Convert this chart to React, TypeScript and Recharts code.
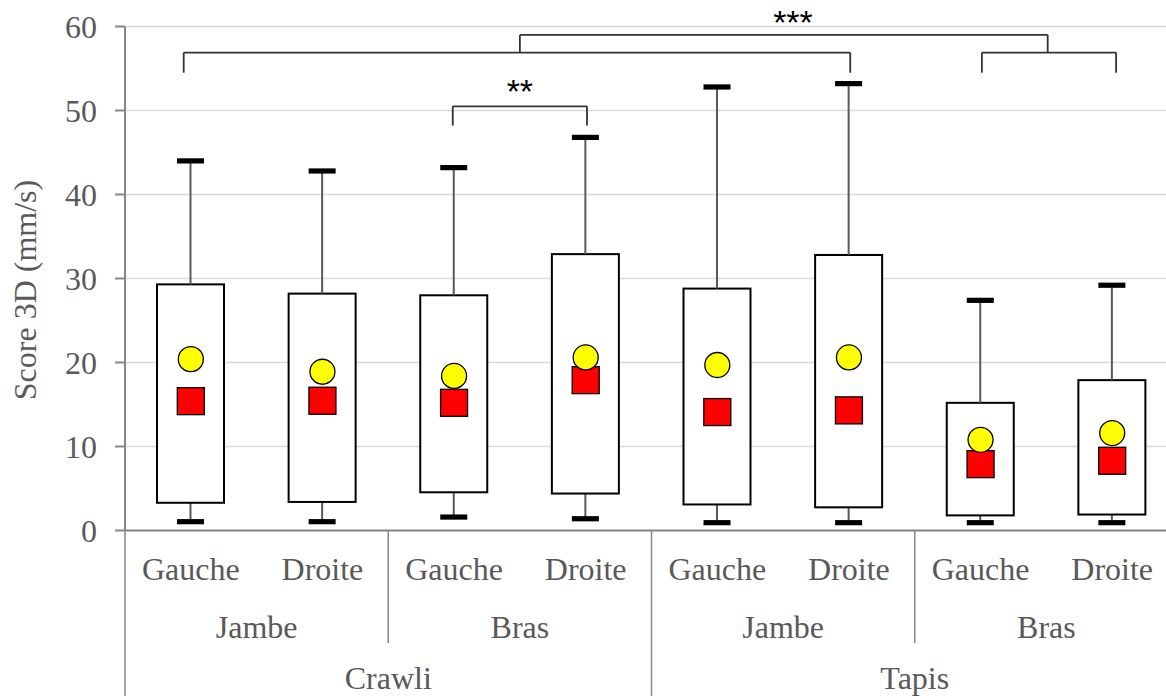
import React from 'react';
import {
  ComposedChart,
  Bar,
  Line,
  XAxis,
  YAxis,
  CartesianGrid,
  ReferenceLine,
  ReferenceDot,
  Label,
} from 'recharts';

// ---- data ----
const keys = ['C-J-G', 'C-J-D', 'C-B-G', 'C-B-D', 'T-J-G', 'T-J-D', 'T-B-G', 'T-B-D'];
const cotes = ['Gauche', 'Droite', 'Gauche', 'Droite', 'Gauche', 'Droite', 'Gauche', 'Droite'];
const membres = ['Jambe', 'Jambe', 'Bras', 'Bras', 'Jambe', 'Jambe', 'Bras', 'Bras'];
const conditions = ['Crawli', 'Crawli', 'Crawli', 'Crawli', 'Tapis', 'Tapis', 'Tapis', 'Tapis'];
const minimums = [1.05, 1.05, 1.6, 1.4, 0.93, 0.93, 0.93, 0.93];
const q1s = [3.3, 3.4, 4.55, 4.4, 3.1, 2.76, 1.8, 1.9];
const q3s = [29.3, 28.2, 28.0, 32.9, 28.8, 32.8, 15.2, 17.9];
const maximums = [44.0, 42.8, 43.2, 46.8, 52.8, 53.2, 27.4, 29.2];
const moyennes = [20.4, 18.9, 18.4, 20.6, 19.7, 20.6, 10.8, 11.6];
const medianes = [15.4, 15.45, 15.2, 17.9, 14.1, 14.3, 7.9, 8.3];
const yTicks = [0, 10, 20, 30, 40, 50, 60];

// significance brackets (x in category units 0..8, y in mm/s)
const brackets = [
  { x1: 0.446, x2: 5.51, top: 56.9, leg: 54.5 },
  { x1: 2.49, x2: 3.51, top: 50.5, leg: 48.2 },
  { x1: 6.51, x2: 7.53, top: 56.9, leg: 54.5 },
  { x1: 3.0, x2: 7.01, top: 59.0, leg: 56.9 },
];
const stars = [
  { x: 3.0, y: 50.9, text: '**' },
  { x: 5.075, y: 59.15, text: '***' },
];

const data = keys.map((k, i) => ({
  key: k,
  rang: i + 0.5,
  base: minimums[i],
  lowW: q1s[i] - minimums[i],
  box: q3s[i] - q1s[i],
  highW: maximums[i] - q3s[i],
  moyenne: moyennes[i],
  mediane: medianes[i],
}));

// ---- layout / style ----
const W = 1190;
const H = 730;
const FONT = "'Liberation Serif', 'Times New Roman', serif";
const TEXT = '#595959';
const AXIS = '#868686';
const PLOT_LEFT = 125;
const PLOT_RIGHT = W - 12;
const BAND = (PLOT_RIGHT - PLOT_LEFT) / keys.length;

const BoxShape = (p: any) => (
  <rect x={p.x} y={p.y} width={p.width} height={p.height} fill="#fff" stroke="#000" strokeWidth={2} />
);

const LowWhisker = (p: any) => {
  const cx = p.x + p.width / 2;
  const yb = p.y + p.height;
  return (
    <g>
      <line x1={cx} x2={cx} y1={p.y} y2={yb} stroke="#595959" strokeWidth={2} />
      <rect x={cx - 13.5} y={yb - 2.6} width={27} height={5.2} fill="#000" />
    </g>
  );
};

const HighWhisker = (p: any) => {
  const cx = p.x + p.width / 2;
  return (
    <g>
      <line x1={cx} x2={cx} y1={p.y} y2={p.y + p.height} stroke="#595959" strokeWidth={2} />
      <rect x={cx - 13.5} y={p.y - 2.6} width={27} height={5.2} fill="#000" />
    </g>
  );
};

const Empty = () => <g />;

const SquareDot = (p: any) => (
  <rect key={`sq-${p.index}`} x={p.cx - 13.5} y={p.cy - 13.5} width={27} height={27} fill="#FF0000" stroke="#000" strokeWidth={1.3} />
);

const CircleDot = (p: any) => (
  <circle key={`ci-${p.index}`} cx={p.cx} cy={p.cy} r={12.5} fill="#FFFF00" stroke="#000" strokeWidth={1.3} />
);

const CategoryTick = (p: any) => {
  const { x, y, index } = p;
  const half = BAND / 2;
  const n = keys.length;
  const t = { fontFamily: FONT, fontSize: 32, fill: TEXT, textAnchor: 'middle' as const };
  return (
    <g>
      <text x={x} y={y + 49.5} {...t}>{cotes[index]}</text>
      {index % 2 === 0 && (
        <text x={x + half} y={y + 107} {...t}>{membres[index]}</text>
      )}
      {index % 2 === 0 && (
        <line x1={x - half} x2={x - half} y1={y} y2={index % 4 === 0 ? y + 260 : y + 112.5} stroke={AXIS} strokeWidth={1.5} />
      )}
      {index % 4 === 0 && (
        <text x={x + 3 * half} y={y + 158} {...t}>{conditions[index]}</text>
      )}
      {index === n - 1 && (
        <line x1={x + half} x2={x + half} y1={y} y2={y + 260} stroke={AXIS} strokeWidth={1.5} />
      )}
    </g>
  );
};

const YTitle = (p: any) => {
  const vb = p.viewBox || { x: 0, y: 26.5, width: 125, height: 504 };
  const x = vb.x + 36;
  const y = vb.y + vb.height / 2 + 11.5;
  return (
    <text x={x} y={y} transform={`rotate(-90 ${x} ${y})`} textAnchor="middle" fontFamily={FONT} fontSize={32} fill={TEXT}>
      Score 3D (mm/s)
    </text>
  );
};

const StarText = (text: string) => (p: any) => (
  <text x={p.cx} y={p.cy} textAnchor="middle" fontFamily="'Liberation Sans', Arial, sans-serif" fontSize={34} fill="#000">{text}</text>
);

export default function App() {
  return (
    <div style={{ position: 'fixed', left: 0, top: 0, width: 1166, height: 696, overflow: 'hidden', background: '#fff' }}>
      <ComposedChart
        width={W}
        height={H}
        data={data}
        margin={{ top: 26.5, right: W - PLOT_RIGHT, left: 0, bottom: 0 }}
        barSize={67}
      >
        <CartesianGrid horizontal vertical={false} stroke="#D9D9D9" strokeWidth={1.5} />
        <XAxis
          dataKey="key"
          type="category"
          height={H - 26.5 - 504}
          interval={0}
          tickLine={false}
          tickSize={0}
          tickMargin={0}
          axisLine={{ stroke: AXIS, strokeWidth: 2 }}
          tick={<CategoryTick />}
        />
        <XAxis xAxisId="num" dataKey="rang" type="number" domain={[0, 8]} allowDataOverflow hide />
        <YAxis
          type="number"
          domain={[0, 60]}
          ticks={yTicks}
          width={125}
          tickSize={10}
          tickMargin={18}
          axisLine={{ stroke: AXIS, strokeWidth: 2 }}
          tickLine={{ stroke: AXIS, strokeWidth: 2 }}
          tick={{ fontFamily: FONT, fontSize: 32, fill: TEXT }}
        >
          <Label content={<YTitle />} />
        </YAxis>
        <Bar dataKey="base" stackId="b" shape={<Empty />} isAnimationActive={false} />
        <Bar dataKey="lowW" stackId="b" shape={<LowWhisker />} isAnimationActive={false} />
        <Bar dataKey="box" stackId="b" shape={<BoxShape />} isAnimationActive={false} />
        <Bar dataKey="highW" stackId="b" shape={<HighWhisker />} isAnimationActive={false} />
        <Line dataKey="mediane" stroke="none" dot={SquareDot} activeDot={false} isAnimationActive={false} />
        <Line dataKey="moyenne" stroke="none" dot={CircleDot} activeDot={false} isAnimationActive={false} />
        {brackets.map((b, i) => (
          <ReferenceLine
            key={`bl-${i}`}
            xAxisId="num"
            segment={[{ x: b.x1, y: b.leg }, { x: b.x1, y: b.top }]}
            stroke="#333"
            strokeWidth={1.8}
          />
        ))}
        {brackets.map((b, i) => (
          <ReferenceLine
            key={`bt-${i}`}
            xAxisId="num"
            segment={[{ x: b.x1, y: b.top }, { x: b.x2, y: b.top }]}
            stroke="#333"
            strokeWidth={1.8}
          />
        ))}
        {brackets.map((b, i) => (
          <ReferenceLine
            key={`br-${i}`}
            xAxisId="num"
            segment={[{ x: b.x2, y: b.top }, { x: b.x2, y: b.leg }]}
            stroke="#333"
            strokeWidth={1.8}
          />
        ))}
        {stars.map((s, i) => (
          <ReferenceDot key={`st-${i}`} xAxisId="num" x={s.x} y={s.y} r={0} shape={StarText(s.text)} ifOverflow="visible" />
        ))}
      </ComposedChart>
    </div>
  );
}
